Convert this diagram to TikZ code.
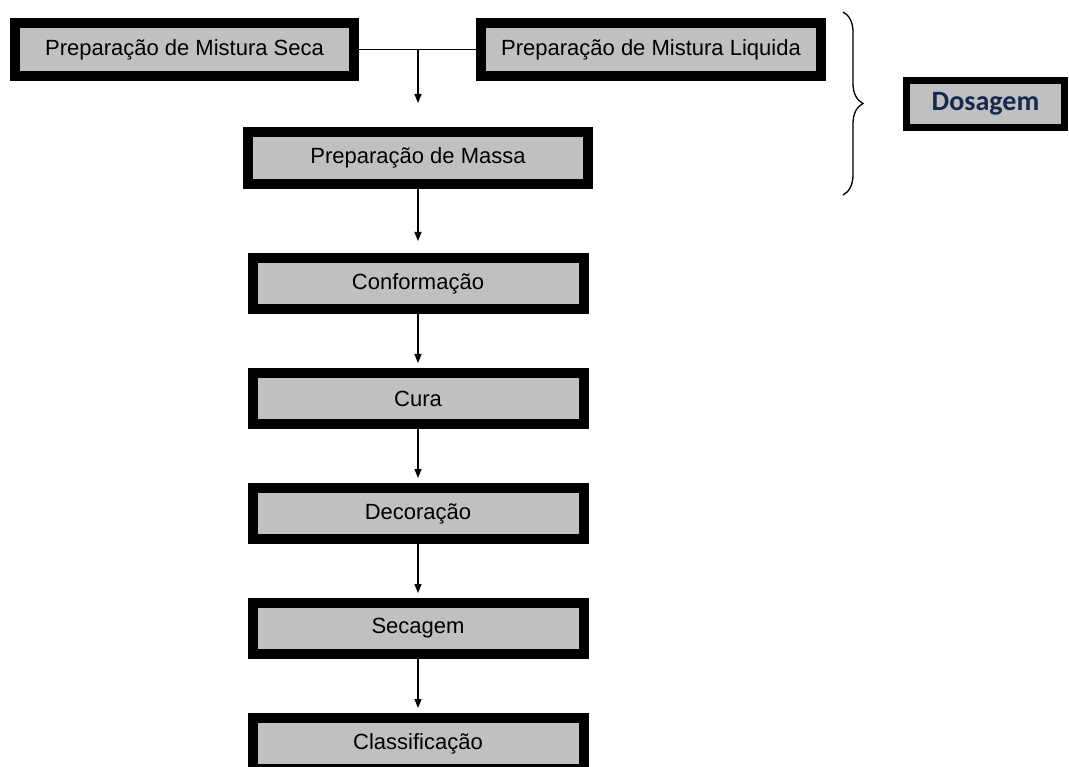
\documentclass[tikz,border=0pt]{standalone}
\usepackage{fontspec}
\setmainfont{Liberation Sans}
\newfontfamily\dosfont{Carlito}
\usetikzlibrary{positioning,arrows.meta,decorations.pathreplacing}
\definecolor{boxgray}{RGB}{192,192,192}
\definecolor{dosblue}{RGB}{23,40,80}
\begin{document}
\begin{tikzpicture}[x=1pt,y=-1pt,>={Triangle[length=9pt,width=7pt]},
	etapa/.style={draw=black,line width=10pt,fill=boxgray,inner sep=0pt,font=\fontsize{22}{26}\selectfont},
	etapalow/.style={etapa,minimum width=331pt,minimum height=51pt},
	seta/.style={->,line width=1.2pt}]
	\useasboundingbox (0,0) rectangle (1069,767);
	% mistura seca e liquida
	\node[etapa,minimum width=339pt,minimum height=53pt] (seca) at (184.5,49.5) {Preparação de Mistura Seca};
	\node[etapa,minimum width=340pt,minimum height=53pt] (liquida) at (651,49.5) {Preparação de Mistura Liquida};
	\node[etapa,minimum width=340pt,minimum height=52pt] (massa) at (418,158) {Preparação de Massa};
	% etapas seguintes
	\node[etapalow,below=64pt of massa] (conf) {Conformação};
	\node[etapalow,below=54pt of conf] (cura) {Cura};
	\node[etapalow,below=54pt of cura] (deco) {Decoração};
	\node[etapalow,below=54pt of deco] (secagem) {Secagem};
	\node[etapalow,below=54pt of secagem] (classif) {Classificação};
	% dosagem
	\node[draw=black,line width=7pt,fill=boxgray,inner sep=0pt,minimum width=158pt,minimum height=47pt,
		text=dosblue,font=\dosfont\bfseries\fontsize{28}{32}\selectfont] (dosagem) at (985.5,104) {Dosagem};
	\draw[line width=1.3pt,decorate,decoration={brace,amplitude=20pt}] (843,12) -- (843,195);
	% ligacoes
	\coordinate (juncao) at (418,49.5);
	\draw[line width=1.2pt] (seca) -- (liquida);
	\draw[seta,shorten >=24pt] (juncao) -- (massa);
	\draw[seta,shorten >=12pt] (massa) -- (conf);
	\draw[seta,shorten >=5pt] (conf) -- (cura);
	\draw[seta,shorten >=5pt] (cura) -- (deco);
	\draw[seta,shorten >=5pt] (deco) -- (secagem);
	\draw[seta,shorten >=5pt] (secagem) -- (classif);
\end{tikzpicture}
\end{document}
